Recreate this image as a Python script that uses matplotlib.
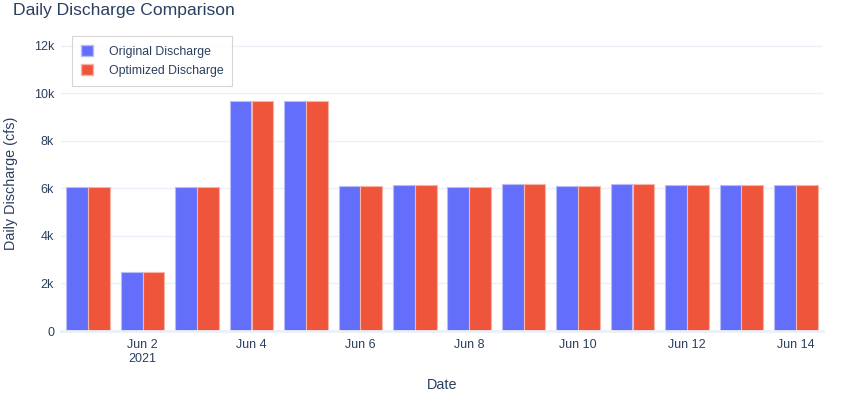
import numpy as np
import pandas as pd
import matplotlib
matplotlib.use("Agg")
import matplotlib.pyplot as plt
import matplotlib.dates as mdates
from matplotlib.ticker import FuncFormatter
from matplotlib.patches import Patch

plt.rcParams["font.family"] = ["Liberation Sans", "DejaVu Sans"]

# data
dates = pd.date_range("2021-06-01", "2021-06-14", freq="D")
original = [6060, 2490, 6060, 9660, 9660, 6110, 6130, 6040, 6170, 6090, 6170, 6130, 6130, 6130]
optimized = [6060, 2490, 6060, 9660, 9660, 6110, 6130, 6040, 6170, 6090, 6170, 6130, 6130, 6130]

blue = "#636efa"
red = "#ef553b"
text_col = "#2a3f5f"
grid_col = "#ebf0f8"

fig = plt.figure(figsize=(8.44, 4.0), dpi=100)
ax = fig.add_axes([61 / 844, 1 - 331 / 400, (823 - 61) / 844, (331 - 36) / 400])

x = mdates.date2num(dates)
w = 0.4
ax.bar(x - w / 2, original, width=w, color=blue, edgecolor="#b9bdf7", linewidth=0.8, zorder=3)
ax.bar(x + w / 2, optimized, width=w, color=red, edgecolor="#f7b3a6", linewidth=0.8, zorder=3)

ax.set_xlim(x[0] - 0.5, x[-1] + 0.5)
ax.set_ylim(0, 12400)
ax.set_yticks([0, 2000, 4000, 6000, 8000, 10000, 12000])
ax.yaxis.set_major_formatter(FuncFormatter(lambda v, p: "0" if v == 0 else f"{int(v / 1000)}k"))

tick_dates = dates[1::2]
ax.set_xticks(mdates.date2num(tick_dates))
ax.set_xticklabels([d.strftime("%b ") + str(d.day) + ("\n2021" if i == 0 else "")
                    for i, d in enumerate(tick_dates)])

ax.grid(axis="y", color=grid_col, linewidth=1, zorder=0)
for s in ["top", "right", "left"]:
    ax.spines[s].set_visible(False)
ax.spines["bottom"].set_color(grid_col)
ax.spines["bottom"].set_linewidth(2)
ax.spines["bottom"].set_zorder(4)
ax.tick_params(length=0, labelsize=9, colors=text_col, pad=6)
ax.tick_params(axis="y", pad=5)

ax.set_xlabel("Date", fontsize=10.4, color=text_col, labelpad=9)
ax.set_ylabel("Daily Discharge (cfs)", fontsize=10.4, color=text_col, labelpad=11)
fig.text(13 / 844, 1 - 10 / 400, "Daily Discharge Comparison", fontsize=12.6,
         color=text_col, va="center", ha="left")

handles = [Patch(facecolor=blue, edgecolor="#b9bdf7", label="Original Discharge"),
           Patch(facecolor=red, edgecolor="#f7b3a6", label="Optimized Discharge")]
leg = ax.legend(handles=handles, loc="upper left", bbox_to_anchor=(11 / 762, 1.0),
                frameon=True, fancybox=False, fontsize=8.8, handlelength=0.95,
                handleheight=1.0, handletextpad=1.3, borderpad=0.75, labelspacing=0.5,
                borderaxespad=0)
leg.get_frame().set_edgecolor("#cccccc")
leg.get_frame().set_linewidth(0.8)
for t in leg.get_texts():
    t.set_color(text_col)

fig.savefig("out.png", dpi=100)
